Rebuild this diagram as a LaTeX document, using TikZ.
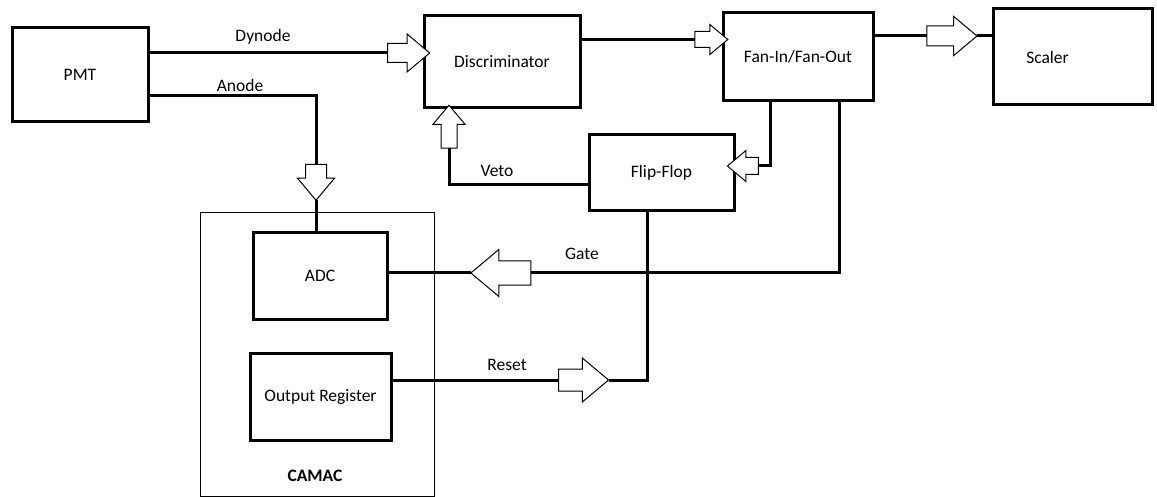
\documentclass[tikz,border=0pt]{standalone}
\usepackage{fontspec}
\setmainfont{Carlito}
\usetikzlibrary{shapes.arrows,positioning}
\tikzset{
  blk/.style={draw,line width=3pt,inner sep=0pt},
  crate/.style={draw,line width=1pt,inner sep=0pt},
  wire/.style={line width=3pt},
  barrow/.style n args={3}{single arrow,draw,fill=white,line width=1pt,
    inner xsep=0pt,inner ysep=#2*0.5,outer sep=0pt,single arrow tip angle=80,
    minimum height=#1,single arrow head extend=#3},
  vbarrow/.style n args={3}{barrow={#1}{0}{#3},inner xsep=#2*0.5},
  every node/.style={font=\fontsize{17.5}{21}\selectfont}
}
\begin{document}
\begin{tikzpicture}[x=1pt,y=-1pt]
\useasboundingbox (0,0) rectangle (1157,497);
% CAMAC crate
\node[crate,minimum width=234,minimum height=283] (camac) at (317,354.5) {};
\node[font=\fontsize{17.5}{21}\selectfont\bfseries] (camaclbl) at (315,476) {CAMAC};
% modules
\node[blk,minimum width=136,minimum height=94] (pmt) at (80,75) {PMT};
\node[blk,minimum width=156,minimum height=92] (disc) at (502,62) {Discriminator};
\node[blk,minimum width=150,minimum height=88] (fan) at (798,57) {Fan-In/Fan-Out};
\node[blk,minimum width=159,minimum height=96,label={[xshift=-25pt]center:Scaler}] (scaler) at (1072.5,57) {};
\node[blk,minimum width=145,minimum height=76] (ff) at (661.5,173) {Flip-Flop};
\node[blk,minimum width=134,minimum height=86] (adc) at (320,276) {ADC};
\node[blk,minimum width=141,minimum height=87] (outreg) at (320.5,396.5) {Output Register};
% block arrows
\node[barrow={42}{18}{9.5}] (dynarr) at (403,53) {};
\node[vbarrow={36}{20}{8},shape border rotate=270] (anodearr) at (316,176) {};
\node[barrow={33}{15}{7}] (discarr) at (706.5,39.5) {};
\node[barrow={50}{19}{9.5}] (fanarr) at (946,36) {};
\node[barrow={31}{16}{7},shape border rotate=180] (ffarr) at (748,166) {};
\node[vbarrow={43}{15}{8},shape border rotate=90] (vetoarr) at (449,131.5) {};
\node[barrow={60}{23}{11.5},shape border rotate=180] (gatearr) at (508,273) {};
\node[barrow={50}{21}{11}] (resetarr) at (577,380) {};
% signal lines
\draw[wire] (pmt.east |- dynarr.tail) -- (dynarr.tail);
\draw[wire] (pmt.east |- 0,96) -| (anodearr.tail);
\draw[wire] (anodearr.tip) -- (anodearr.tip |- adc.north);
\draw[wire] (disc.east |- discarr.tail) -- (discarr.tail);
\draw[wire] (fan.east |- fanarr.tail) -- (fanarr.tail);
\draw[wire] (fanarr.tip) -- (scaler.west |- fanarr.tip);
\draw[wire] (fan.south -| 770,0) |- (ffarr.tail);
\draw[wire] (ff.west |- 0,185) -| (vetoarr.tail);
\draw[wire] (fan.south -| 839,0) |- (gatearr.tail);
\draw[wire] (gatearr.tip) -- (adc.east |- gatearr.tip);
\draw[wire] (outreg.east |- resetarr.tail) -- (resetarr.tail);
\draw[wire] (resetarr.tip) -| (ff.south -| 647,0);
% signal names
\node (dynlbl) at (263,37) {Dynode};
\node (anodelbl) at (240,85) {Anode};
\node (vetolbl) at (497,171) {Veto};
\node (gatelbl) at (582,254) {Gate};
\node (resetlbl) at (507,365) {Reset};
\end{tikzpicture}
\end{document}
